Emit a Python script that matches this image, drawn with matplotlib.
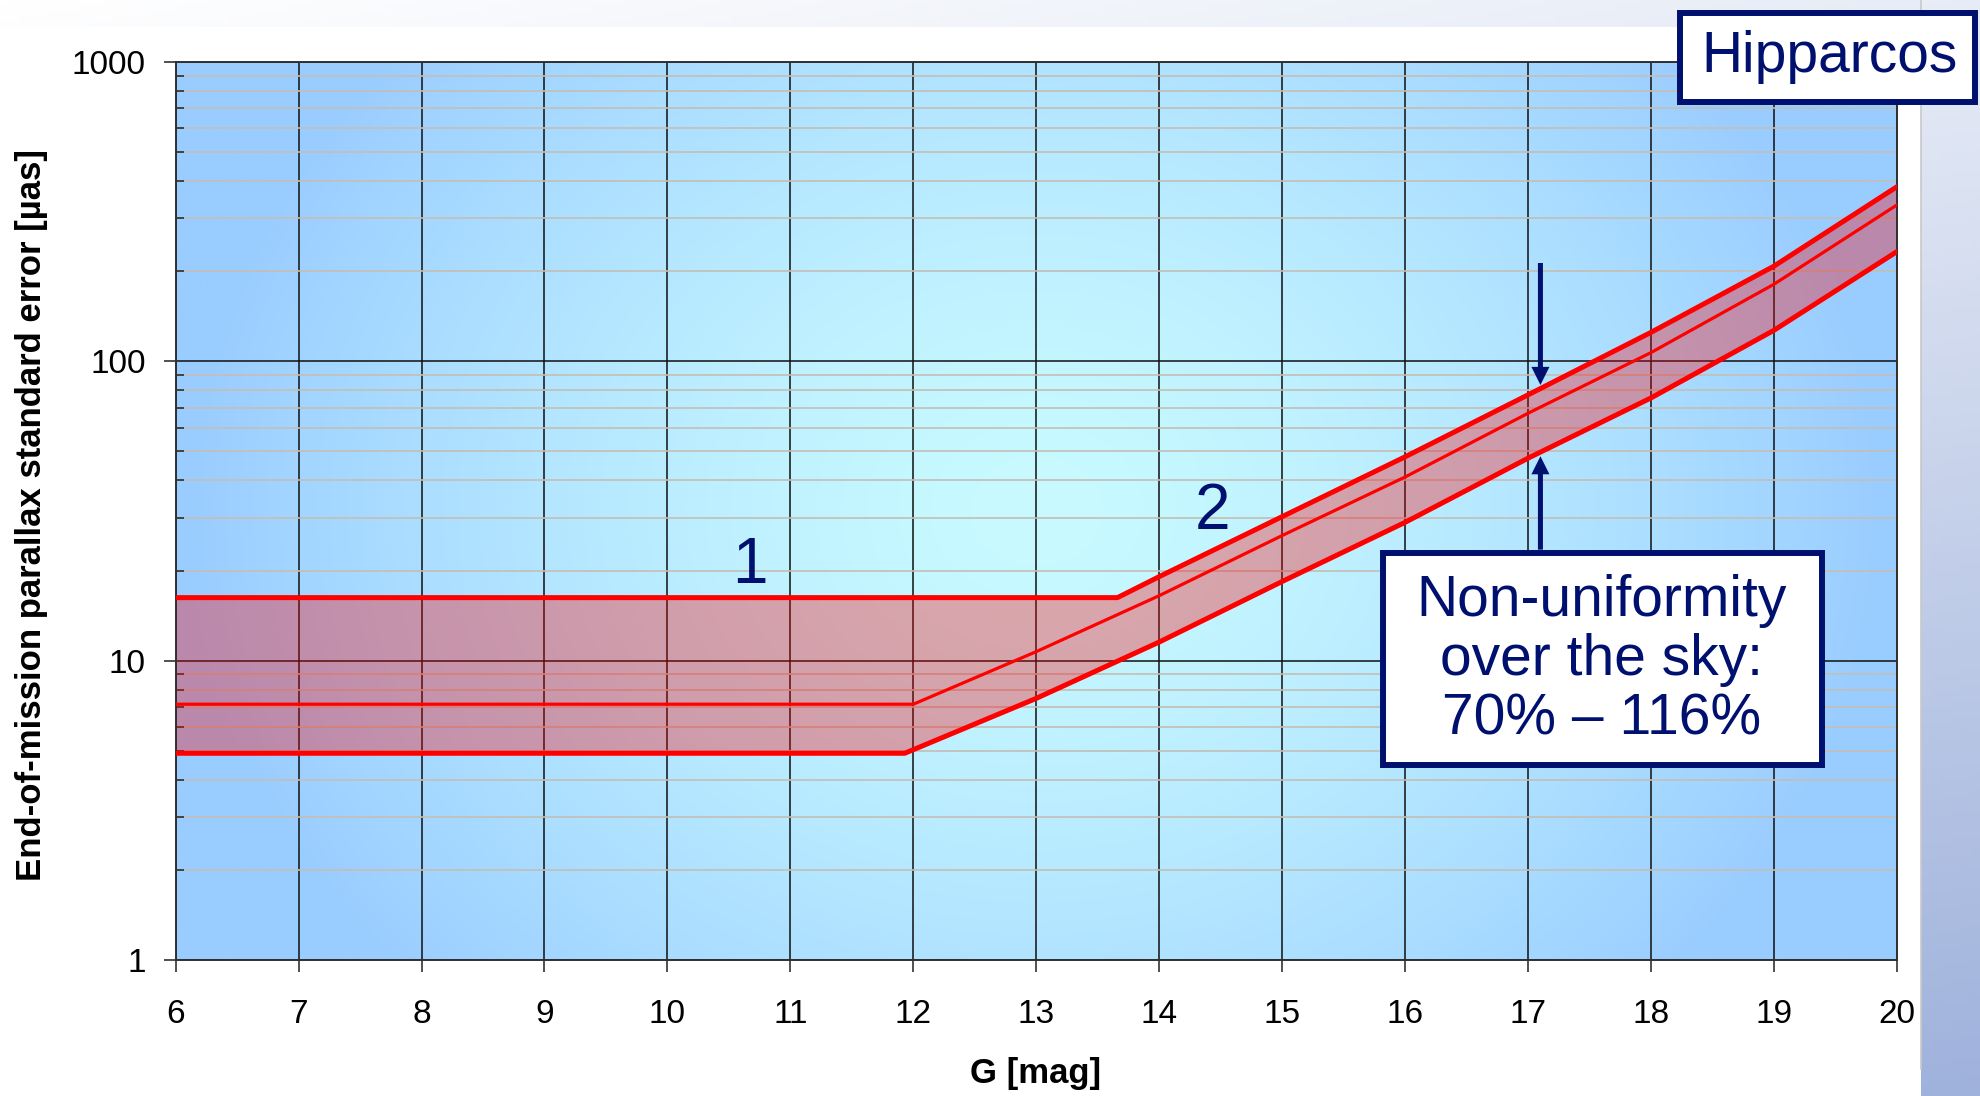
import numpy as np
import matplotlib
matplotlib.use("Agg")
import matplotlib.pyplot as plt
from matplotlib.patches import Rectangle

plt.rcParams['font.family'] = ['Liberation Sans', 'DejaVu Sans']

# end-of-mission parallax error [uas] vs G magnitude
g_upper = [6, 13.66, 14, 15, 16, 17, 18, 19, 20]
err_upper = [16.25, 16.25, 19.1, 30.3, 48.0, 77.3, 125.0, 208.0, 383.0]

g_mid = [6, 12, 13, 14, 15, 16, 17, 18, 19, 20]
err_mid = [7.16, 7.16, 10.73, 16.5, 26.2, 41.1, 67.1, 107.0, 181.0, 333.0]

g_lower = [6, 11.93, 13, 14, 15, 16, 17, 18, 19, 20]
err_lower = [4.91, 4.91, 7.49, 11.55, 18.4, 29.0, 47.5, 75.5, 127.0, 232.6]

xticks = list(range(6, 21))
yticks = [1, 10, 100, 1000]

NAVY = '#00106e'
RED = '#ff0000'

W, H = 1981, 1096
fig = plt.figure(figsize=(W / 100, H / 100), dpi=100)

# slide background: white fading to blue towards the bottom right
slide = fig.add_axes([0, 0, 1, 1], zorder=-2)
yy, xx = np.mgrid[0:1:200j, 0:1:200j]
t = np.clip(0.25 * xx + 0.75 * yy, 0, 1)[..., None]
c0 = np.array([255, 255, 255]) / 255
c1 = np.array([159, 178, 220]) / 255
slide.imshow(c0 * (1 - t) + c1 * t, extent=(0, 1, 1, 0), aspect='auto')
slide.add_patch(Rectangle((0, 27 / H), 1921 / W, 1 - 27 / H, facecolor='white',
                          edgecolor='none'))
slide.plot([1921 / W, 1921 / W], [0, 1 - 27 / H], color='#c8c8c8', lw=1.2)
slide.set_xlim(0, 1)
slide.set_ylim(1, 0)
slide.axis('off')

pos = [175.6 / W, 1 - 960.2 / H, (1897 - 175.6) / W, (960.2 - 61.9) / H]

# plot area: light cyan in the middle, blue at the edges
bg = fig.add_axes(pos, zorder=0)
py, px = np.mgrid[0:1:300j, 0:1:600j]
d = np.sqrt(((px - 0.5) / 0.5) ** 2 + ((py - 0.5) / 0.8) ** 2)
t = (np.clip(d, 0, 1) ** 1.5)[..., None]
cc = np.array([200, 250, 255]) / 255
ce = np.array([153, 204, 255]) / 255
bg.imshow(cc * (1 - t) + ce * t, extent=(0, 1, 0, 1), aspect='auto')
bg.axis('off')

ax = fig.add_axes(pos, zorder=1)
ax.patch.set_visible(False)
ax.set_yscale('log')
ax.set_xlim(6, 20)
ax.set_ylim(1, 1000)
ax.set_xticks(xticks)
ax.set_xticklabels([str(v) for v in xticks])
ax.set_yticks(yticks)
ax.set_yticklabels([str(v) for v in yticks])
ax.set_axisbelow(True)
ax.grid(True, which='major', axis='both', color='#101010', lw=1.1)
ax.grid(True, which='minor', axis='y', color='#c4beb4', lw=1.2)
ax.tick_params(axis='both', which='major', direction='out', length=8.6,
               width=1.1, labelsize=24, color='#202020')
ax.tick_params(axis='x', pad=19.5)
ax.tick_params(axis='y', pad=13)
ax.tick_params(axis='y', which='minor', direction='in', length=6, width=1.1,
               color='#202020')
ax.xaxis.set_minor_locator(matplotlib.ticker.NullLocator())
for s in ax.spines.values():
    s.set_color('#303030')
    s.set_linewidth(1.4)

# band between 70% and 116% of the mean error
band_x = np.concatenate([g_upper, g_lower[::-1]])
band_y = np.concatenate([err_upper, err_lower[::-1]])
ax.fill(band_x, band_y, color=RED, alpha=0.33, lw=0, zorder=2)
ax.plot(g_upper, err_upper, color=RED, lw=3.6, zorder=3, solid_joinstyle='round')
ax.plot(g_lower, err_lower, color=RED, lw=3.6, zorder=3, solid_joinstyle='round')
ax.plot(g_mid, err_mid, color=RED, lw=2.3, zorder=3, solid_joinstyle='round')

ax.text(10.67, 20.8, '1', color=NAVY, fontsize=46, ha='center', va='center')
ax.text(14.43, 31.4, '2', color=NAVY, fontsize=46, ha='center', va='center')

# arrows pointing at the upper and lower edge of the band
arrow_g = 17.1
ax.annotate('', xy=(arrow_g, 83.4), xytext=(arrow_g, 213),
            arrowprops=dict(width=3.6, headwidth=13, headlength=13, shrink=0,
                            color=NAVY, lw=0), zorder=5)
ax.annotate('', xy=(arrow_g, 48.2), xytext=(arrow_g, 23.5),
            arrowprops=dict(width=3.6, headwidth=13, headlength=13, shrink=0,
                            color=NAVY, lw=0), zorder=5)

fig.text(32 / W, 1 - 515 / H, 'End-of-mission parallax standard error [µas]',
         rotation=90, ha='center', va='center', fontsize=25, fontweight='bold')
fig.text(1036 / W, 1 - 1074 / H, 'G [mag]', ha='center', va='center',
         fontsize=25, fontweight='bold')

# boxed labels
fig.patches.append(Rectangle((1680 / W, 1 - 102 / H), (1975 - 1680) / W, 89 / H,
                             transform=fig.transFigure, facecolor='white',
                             edgecolor=NAVY, lw=4.3, zorder=10))
fig.text(1830 / W, 1 - 57 / H, 'Hipparcos', color=NAVY, fontsize=41,
         ha='center', va='center', zorder=11)

fig.patches.append(Rectangle((1383 / W, 1 - 765 / H), (1822 - 1383) / W,
                             (765 - 553) / H, transform=fig.transFigure,
                             facecolor='white', edgecolor=NAVY, lw=4.3, zorder=10))
fig.text(1602 / W, 1 - 660 / H, 'Non-uniformity\nover the sky:\n70% – 116%',
         color=NAVY, fontsize=41, ha='center', va='center', linespacing=1.13,
         zorder=11)

fig.savefig('out.png', dpi=100)
